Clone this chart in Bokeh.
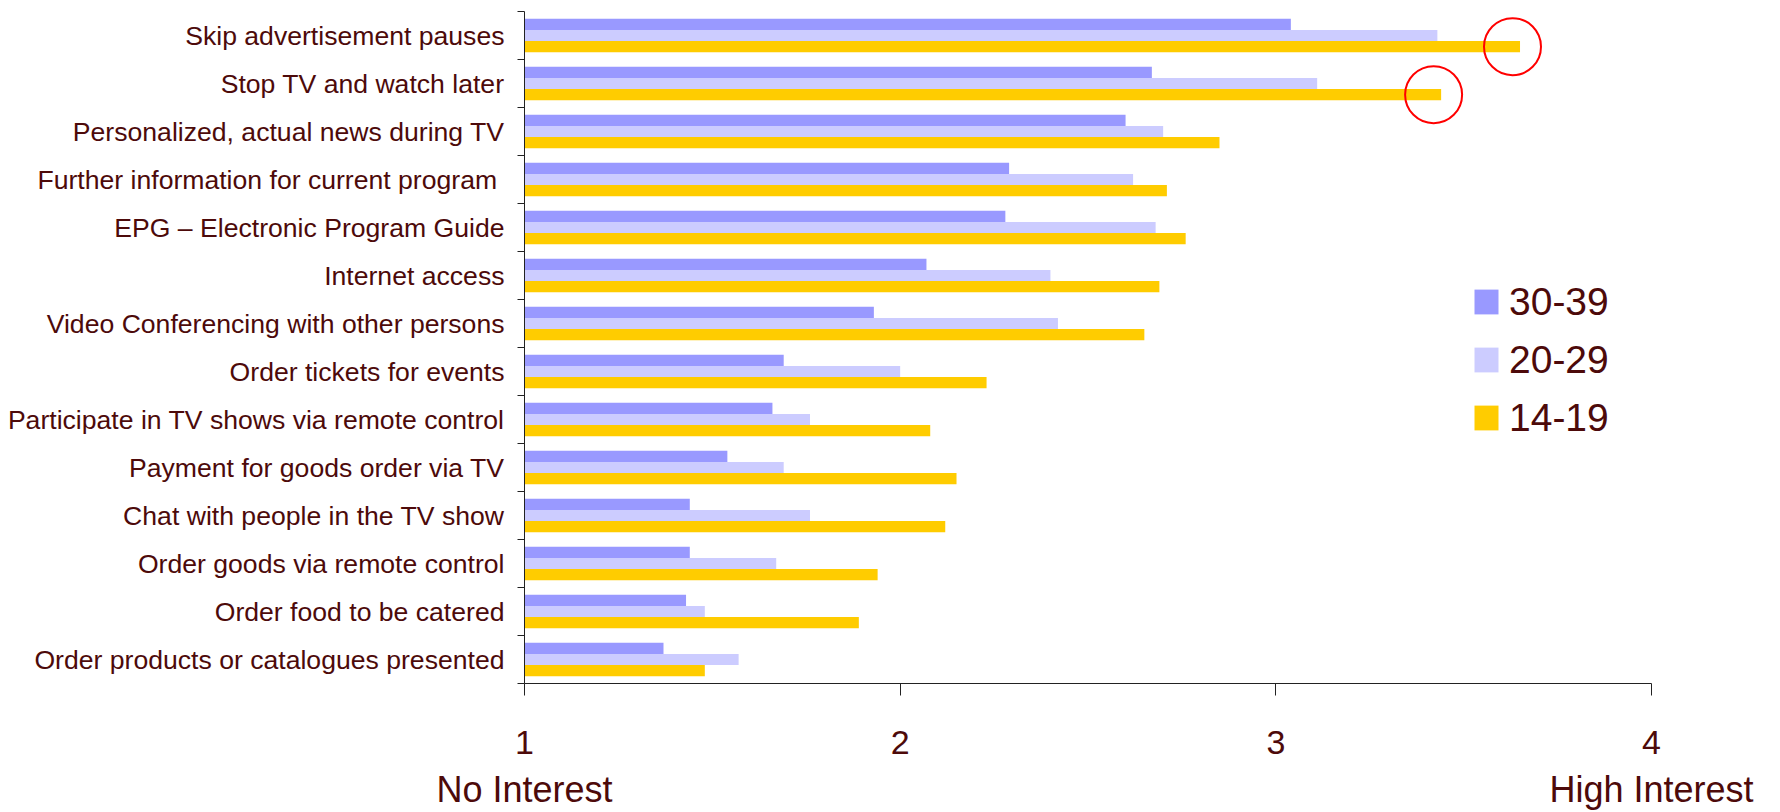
from bokeh.plotting import figure
from bokeh.models import (Range1d, FixedTicker, Legend, LegendItem, LinearAxis,
                          ColumnDataSource)
from bokeh.embed import file_html
from bokeh.resources import INLINE

# ---------------- data ----------------
categories = [
    "Skip advertisement pauses",
    "Stop TV and watch later",
    "Personalized, actual news during TV",
    "Further information for current program ",
    "EPG – Electronic Program Guide",
    "Internet access",
    "Video Conferencing with other persons",
    "Order tickets for events",
    "Participate in TV shows via remote control",
    "Payment for goods order via TV",
    "Chat with people in the TV show",
    "Order goods via remote control",
    "Order food to be catered",
    "Order products or catalogues presented",
]
series_names = ["30-39", "20-29", "14-19"]
v30_39 = [3.04, 2.67, 2.60, 2.29, 2.28, 2.07, 1.93, 1.69, 1.66, 1.54, 1.44, 1.44, 1.43, 1.37]
v20_29 = [3.43, 3.11, 2.70, 2.62, 2.68, 2.40, 2.42, 2.00, 1.76, 1.69, 1.76, 1.67, 1.48, 1.57]
v14_19 = [3.65, 3.44, 2.85, 2.71, 2.76, 2.69, 2.65, 2.23, 2.08, 2.15, 2.12, 1.94, 1.89, 1.48]
x_ticks = [1, 2, 3, 4]
x_end_labels = ["No Interest", "High Interest"]
highlighted = [0, 1]   # categories whose 14-19 bar is circled

# ---------------- styling ----------------
TEXT = "#4d0a0a"
FONT = "Liberation Sans"
colors = ["#9999ff", "#ccccff", "#ffcc00"]
n = len(categories)
centers = [n - i - 0.5 for i in range(n)]
bar_h = 0.232
offsets = [bar_h, 0.0, -bar_h]

p = figure(width=1780, height=812, output_backend="svg", toolbar_location=None,
           x_range=Range1d(x_ticks[0], x_ticks[-1]), y_range=Range1d(0, n),
           min_border_left=524, min_border_right=129, min_border_top=11,
           min_border_bottom=129)
p.outline_line_color = None
p.xgrid.visible = False
p.ygrid.visible = False
p.background_fill_color = "white"
p.border_fill_color = "white"

renderers = []
for vals, col, off in zip([v30_39, v20_29, v14_19], colors, offsets):
    src = ColumnDataSource(dict(y=[c + off for c in centers], right=vals,
                                left=[x_ticks[0]] * n))
    r = p.hbar(y="y", left="left", right="right", height=bar_h, source=src,
               fill_color=col, line_color=None)
    renderers.append(r)

# red circles around the highest 14-19 bars
p.ellipse(x=[v14_19[i] - 0.02 for i in highlighted],
          y=[centers[i] + offsets[2] for i in highlighted],
          width=57, height=57, width_units="screen", height_units="screen",
          fill_color=None, line_color="#ff0000", line_width=2)

# x axis
xa = p.xaxis[0]
xa.ticker = FixedTicker(ticks=x_ticks, minor_ticks=[])
xa.major_tick_out = 12
xa.major_tick_in = 0
xa.axis_line_color = "#222222"
xa.major_tick_line_color = "#222222"
xa.major_label_text_font = FONT
xa.major_label_text_font_size = "34px"
xa.major_label_text_color = TEXT
xa.major_label_standoff = 35

# second axis below carrying the end labels
ea = LinearAxis(ticker=FixedTicker(ticks=[x_ticks[0], x_ticks[-1]], minor_ticks=[]),
                major_label_overrides={x_ticks[0]: x_end_labels[0],
                                       x_ticks[-1]: x_end_labels[1]},
                axis_line_color=None, major_tick_line_color=None,
                minor_tick_line_color=None, major_tick_out=0, major_tick_in=0,
                major_label_standoff=12, major_label_text_font=FONT,
                major_label_text_font_size="36px", major_label_text_color=TEXT)
p.add_layout(ea, "below")

# y axis
ya = p.yaxis[0]
ya.ticker = FixedTicker(ticks=centers, minor_ticks=list(range(n + 1)))
ya.major_label_overrides = {c: lab for c, lab in zip(centers, categories)}
ya.major_tick_out = 0
ya.major_tick_in = 0
ya.minor_tick_out = 7
ya.minor_tick_in = 0
ya.axis_line_color = "#222222"
ya.minor_tick_line_color = "#222222"
ya.major_label_text_font = FONT
ya.major_label_text_font_size = "26.6px"
ya.major_label_text_color = TEXT
ya.major_label_standoff = 13

legend = Legend(items=[LegendItem(label=nm, renderers=[r])
                       for nm, r in zip(series_names, renderers)],
                location=(947, 243), orientation="vertical",
                glyph_width=30, glyph_height=31, label_height=45,
                spacing=13, padding=0, margin=0, label_standoff=8,
                border_line_color=None, background_fill_alpha=0,
                label_text_font=FONT, label_text_font_size="39px",
                label_text_color=TEXT)
p.add_layout(legend)

open("out.html", "w").write(file_html(p, INLINE))
